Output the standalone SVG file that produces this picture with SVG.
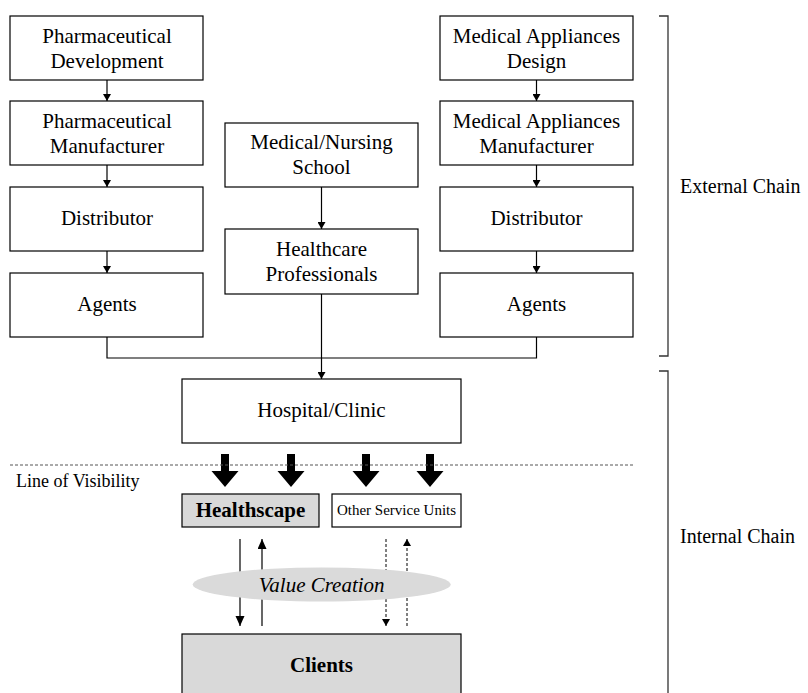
<svg xmlns="http://www.w3.org/2000/svg" width="808" height="693" viewBox="0 0 808 693">
<style>
.box{fill:#fff;stroke:#000;stroke-width:1.2}
.gbox{fill:#d9d9d9;stroke:#000;stroke-width:1.2}
.t{font-family:"Liberation Serif","Times New Roman",serif;font-size:21px;fill:#000;text-anchor:middle}
.b{font-weight:bold}
.ln{stroke:#000;stroke-width:1.2;fill:none}
.dl{stroke:#000;stroke-width:1;fill:none;stroke-dasharray:3 2}
.br{stroke:#333;stroke-width:1.3;fill:none}
</style>
<defs>
<marker id="a" markerWidth="8" markerHeight="8" refX="7" refY="4" orient="auto" markerUnits="userSpaceOnUse">
<path d="M0,0 L7,4 L0,8 Z" fill="#000"/>
</marker>
<marker id="a2" markerWidth="10" markerHeight="10" refX="10" refY="4.5" orient="auto" markerUnits="userSpaceOnUse">
<path d="M0,0 L10,4.5 L0,9 Z" fill="#000"/>
</marker>
<path id="thick" d="M-4,0 H4 V17 H13.5 L0,33 L-13.5,17 H-4 Z" fill="#000"/>
</defs>

<g id="connectors">
<line class="ln" x1="107" y1="80" x2="107" y2="101" marker-end="url(#a)"/>
<line class="ln" x1="107" y1="165" x2="107" y2="187" marker-end="url(#a)"/>
<line class="ln" x1="107" y1="251" x2="107" y2="273" marker-end="url(#a)"/>
<line class="ln" x1="536.5" y1="80" x2="536.5" y2="101" marker-end="url(#a)"/>
<line class="ln" x1="536.5" y1="165" x2="536.5" y2="187" marker-end="url(#a)"/>
<line class="ln" x1="536.5" y1="251" x2="536.5" y2="273" marker-end="url(#a)"/>
<line class="ln" x1="321.5" y1="187" x2="321.5" y2="229" marker-end="url(#a)"/>
<polyline class="ln" points="107,337 107,358 536.5,358 536.5,337"/>
<line class="ln" x1="321.5" y1="294" x2="321.5" y2="379" marker-end="url(#a)"/>
<use href="#thick" x="225" y="454"/>
<use href="#thick" x="291" y="454"/>
<use href="#thick" x="366" y="454"/>
<use href="#thick" x="430" y="454"/>
<line class="ln" x1="240" y1="539" x2="240" y2="626" marker-end="url(#a2)"/>
<line class="ln" x1="262" y1="626" x2="262" y2="539" marker-end="url(#a2)"/>
<line class="dl" x1="386" y1="539" x2="386" y2="626" marker-end="url(#a)"/>
<line class="dl" x1="407" y1="626" x2="407" y2="539" marker-end="url(#a)"/>
</g>

<line id="visibility" x1="10" y1="465" x2="633" y2="465" stroke="#555" stroke-width="1" stroke-dasharray="3 2"/>
<text class="t" x="16" y="487" style="font-size:18px;text-anchor:start">Line of Visibility</text>

<g id="pharm-dev"><rect class="box" x="10" y="16" width="193" height="64"/>
<text class="t" x="107" y="42.5">Pharmaceutical</text><text class="t" x="107" y="67.5">Development</text></g>
<g id="pharm-man"><rect class="box" x="10" y="101" width="193" height="64"/>
<text class="t" x="107" y="127.5">Pharmaceutical</text><text class="t" x="107" y="152.5">Manufacturer</text></g>
<g id="distributor-l"><rect class="box" x="10" y="187" width="193" height="64"/>
<text class="t" x="107" y="225">Distributor</text></g>
<g id="agents-l"><rect class="box" x="10" y="273" width="193" height="64"/>
<text class="t" x="107" y="311">Agents</text></g>

<g id="school"><rect class="box" x="225" y="123" width="193" height="64"/>
<text class="t" x="321.5" y="148.5">Medical/Nursing</text><text class="t" x="321.5" y="173.5">School</text></g>
<g id="professionals"><rect class="box" x="225" y="229" width="193" height="65"/>
<text class="t" x="321.5" y="255.5">Healthcare</text><text class="t" x="321.5" y="280.5">Professionals</text></g>

<g id="app-design"><rect class="box" x="440" y="16" width="193" height="64"/>
<text class="t" x="536.5" y="42.5">Medical Appliances</text><text class="t" x="536.5" y="67.5">Design</text></g>
<g id="app-man"><rect class="box" x="440" y="101" width="193" height="64"/>
<text class="t" x="536.5" y="127.5">Medical Appliances</text><text class="t" x="536.5" y="152.5">Manufacturer</text></g>
<g id="distributor-r"><rect class="box" x="440" y="187" width="193" height="64"/>
<text class="t" x="536.5" y="225">Distributor</text></g>
<g id="agents-r"><rect class="box" x="440" y="273" width="193" height="64"/>
<text class="t" x="536.5" y="311">Agents</text></g>

<g id="hospital"><rect class="box" x="182" y="379" width="279" height="64"/>
<text class="t" x="321.5" y="417">Hospital/Clinic</text></g>

<g id="healthscape"><rect class="gbox" x="182" y="494" width="137" height="33"/>
<text class="t b" x="250.5" y="517">Healthscape</text></g>
<g id="other-units"><rect class="box" x="332" y="494" width="129" height="33"/>
<text class="t" x="396.5" y="515" style="font-size:15px">Other Service Units</text></g>

<g id="value-creation"><ellipse cx="321.7" cy="584.5" rx="129" ry="17" fill="#dadada"/>
<text class="t" x="321.7" y="591.5" font-style="italic">Value Creation</text></g>

<g id="clients"><rect class="gbox" x="182" y="634" width="279" height="70"/>
<text class="t b" x="321.5" y="672">Clients</text></g>

<g id="external-chain"><polyline class="br" points="659,16 668,16 668,356 659,356"/>
<text class="t" x="680" y="193" style="font-size:20px;text-anchor:start">External Chain</text></g>
<g id="internal-chain"><polyline class="br" points="659,371 668,371 668,700"/>
<text class="t" x="680" y="543" style="font-size:20px;text-anchor:start">Internal Chain</text></g>
</svg>
